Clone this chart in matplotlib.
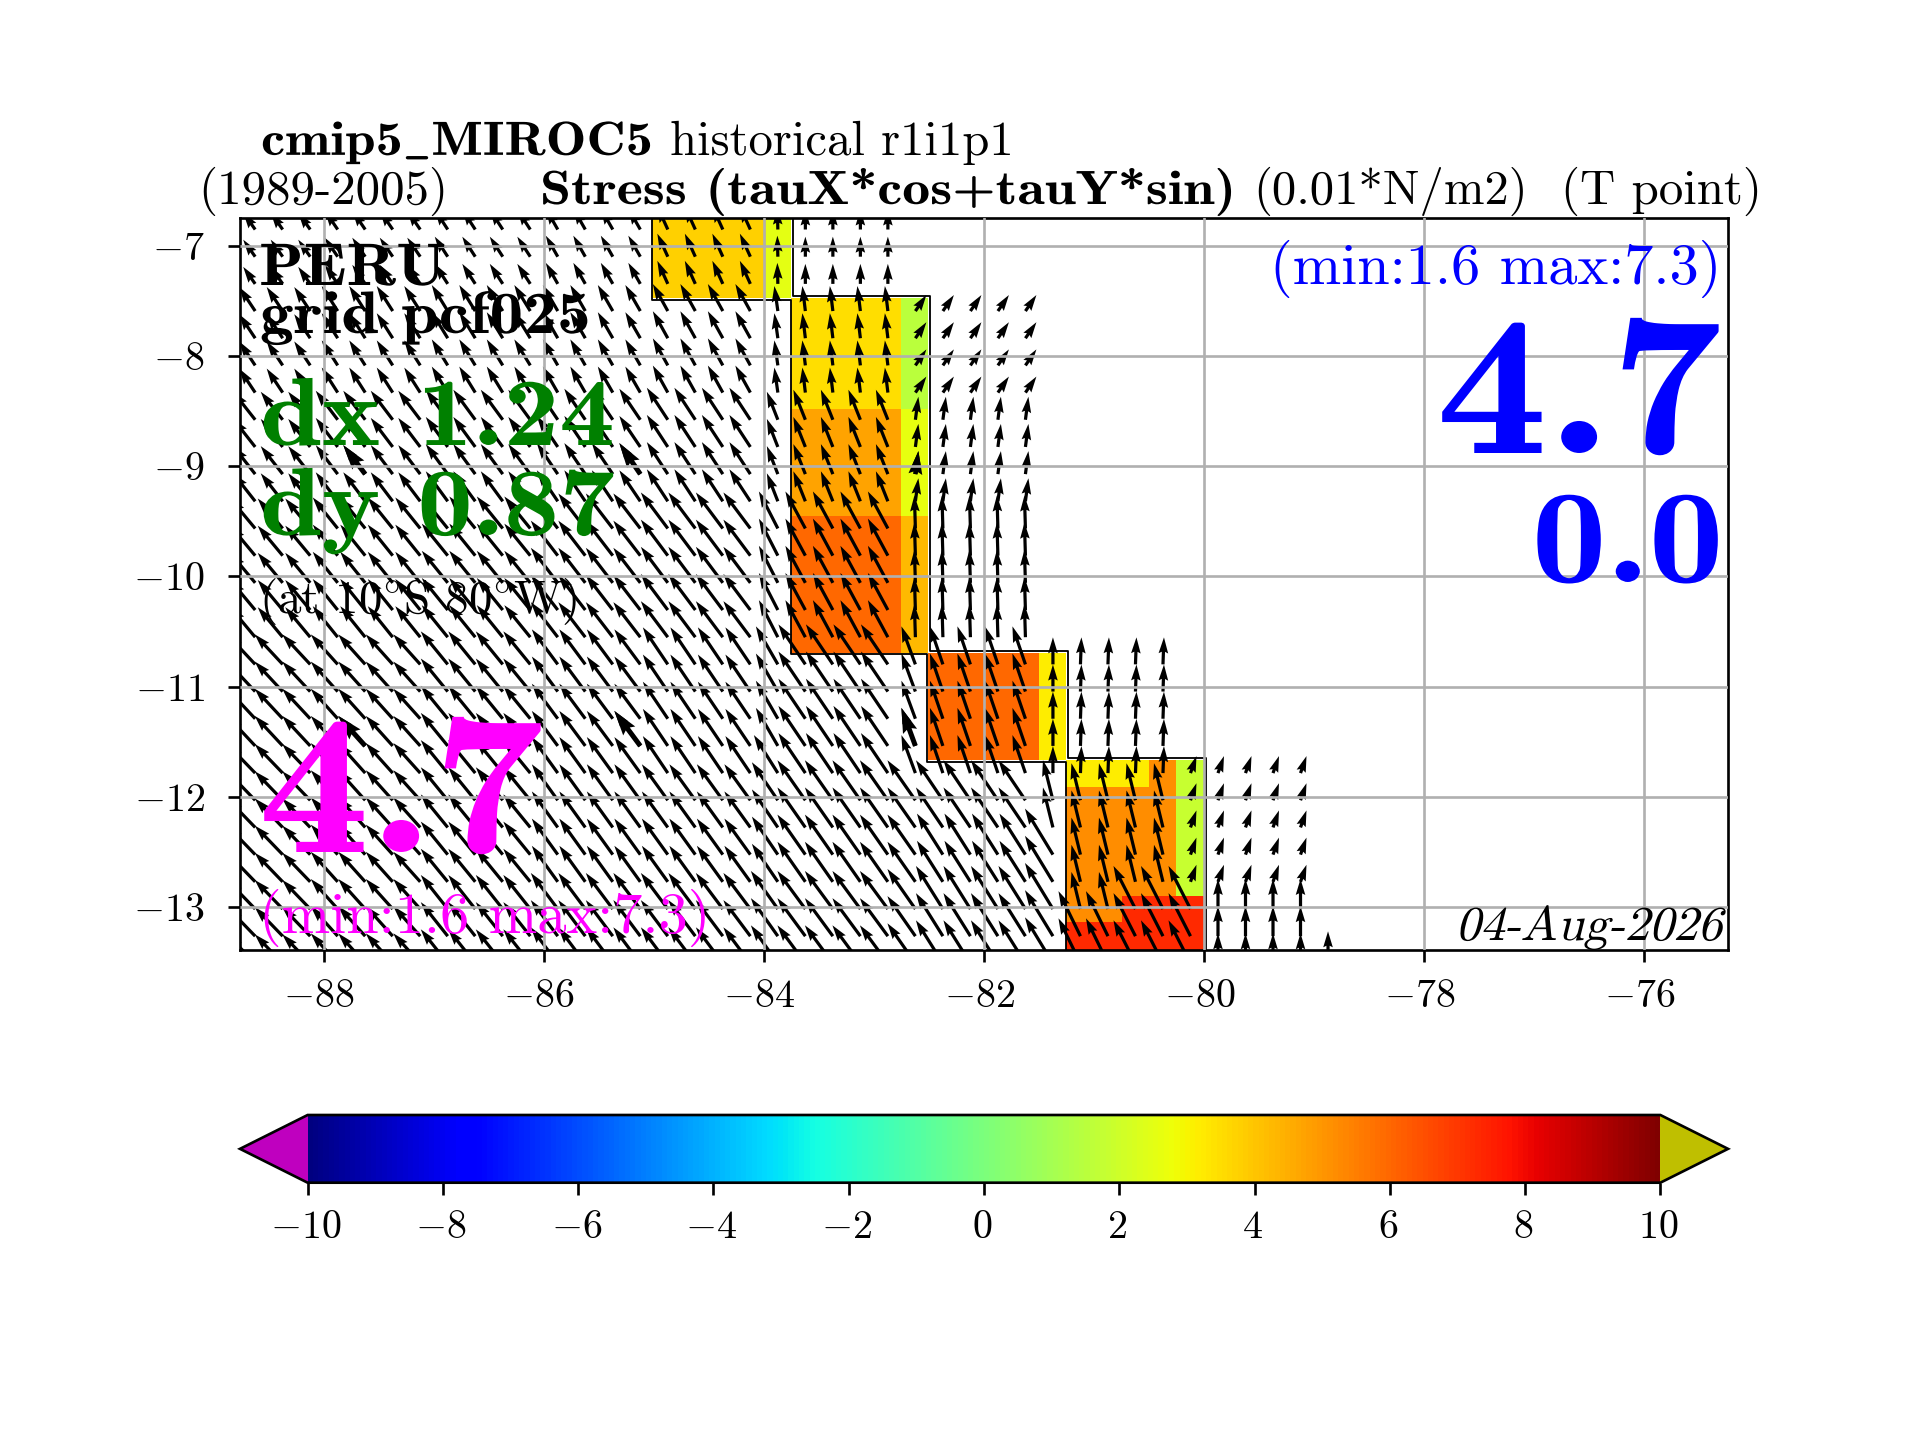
import numpy as np
import matplotlib
matplotlib.use("Agg")
import matplotlib.pyplot as plt
import matplotlib.patheffects as pe
from matplotlib.transforms import Affine2D, ScaledTranslation

plt.rcParams['mathtext.fontset'] = 'cm'
plt.rcParams['font.family'] = ['cmr10', 'DejaVu Sans']
plt.rcParams['axes.unicode_minus'] = False

# ---- colour cells (stress, 0.01 N/m2) ----
cell_lon_edges = [-85.02, -83.98, -83.76, -82.76, -82.51, -81.5, -81.26, -80.75, -80.5, -80.26, -79.99]
cell_lat_edges = [-6.7, -7.47, -8.48, -9.455, -10.69, -11.66, -11.91, -12.9, -13.13, -13.5]
n = np.nan
cell_values = [
    [3.8, 2.5, n, n, n, n, n, n, n, n],
    [n, n, 3.5, 1.5, n, n, n, n, n, n],
    [n, n, 4.7, 2.6, n, n, n, n, n, n],
    [n, n, 6.0, 4.26, n, n, n, n, n, n],
    [n, n, n, n, 6.0, 3.2, n, n, n, n],
    [n, n, n, n, n, n, 3.2, 3.2, 5.2, 1.8],
    [n, n, n, n, n, n, 5.2, 5.2, 5.2, 1.8],
    [n, n, n, n, n, n, 5.2, 7.3, 7.3, 7.3],
    [n, n, n, n, n, n, 7.3, 7.3, 7.3, 7.3],
]

# ---- coast outline ----
coast_west_lon = [-85.02, -85.02, -83.76, -83.76, -82.52, -82.52, -81.26, -81.26]
coast_west_lat = [-6.7, -7.49, -7.49, -10.70, -10.70, -11.68, -11.68, -13.5]
coast_east_lon = [-83.74, -83.74, -82.49, -82.49, -81.24, -81.24, -79.98, -79.98]
coast_east_lat = [-6.7, -7.46, -7.46, -10.68, -10.68, -11.65, -11.65, -13.5]

# ---- wind-stress arrows: a 0.25 degree grid read in blocks ----
arrow_lon = [-88.625 + 0.25 * i for i in range(40)]
arrow_lat = [-6.853 - 0.2465 * k for k in range(28)]
block_cols = [3, 4, 4, 4, 4, 1, 4, 1, 4, 1, 2, 2, 1, 4, 1]
block_rows = [3, 4, 4, 5, 4, 1, 2, 2, 1, 1, 1]
block_u = [
    [-12, -13, -13, -12, -10.5, -0.5, 0, n, n, n, n, n, n, n, n],
    [-16, -16, -16, -15, -15, -3.5, -3, 11, 11, n, n, n, n, n, n],
    [-22, -22, -22, -21, -21, -11, -12, 3, 3, n, n, n, n, n, n],
    [-25, -25, -26, -27, -27, -19, -20, -1, -1, n, n, n, n, n, n],
    [-28, -27, -27, -26, -25, -22, -27, -14, -13, 0, 1, 1, n, n, n],
    [-28, -27, -27, -26, -25, -24, -27, -14, -13, 0, 1, 1, 6, 6, n],
    [-28, -27, -27, -26, -26, -26, -28, -28, -27, -10, -9, -9, 6, 6, n],
    [-28, -27, -27, -26, -26, -26, -28, -28, -26, -28, -9, -9, 6, 6, n],
    [-28, -27, -27, -27, -27, -27, -28, -28, -27, -28, -9, -22, -22, 0, n],
    [-28, -27, -27, -27, -27, -27, -28, -28, -27, -28, -22, -22, -22, 0, n],
    [-28, -27, -27, -27, -27, -27, -28, -28, -27, -28, -22, -22, -22, 0, 0],
]
block_v = [
    [17, 19, 20, 21, 23, 21, 20, n, n, n, n, n, n, n, n],
    [24, 25, 26, 26, 27, 25, 25, 16, 16, n, n, n, n, n, n],
    [28, 29, 30, 31, 32, 28, 30, 23, 23, n, n, n, n, n, n],
    [30, 31, 32, 35, 36, 37, 37, 33, 33, n, n, n, n, n, n],
    [30, 30, 33, 35, 37, 38, 40, 38, 38, 27, 27, 27, n, n, n],
    [29, 30, 33, 36, 37, 38, 40, 38, 38, 27, 27, 27, 17, 17, n],
    [29, 30, 33, 36, 36, 38, 40, 40, 40, 40, 37, 37, 17, 17, n],
    [29, 30, 33, 36, 36, 38, 40, 40, 41, 46, 37, 37, 17, 17, n],
    [29, 30, 34, 36, 36, 38, 38, 40, 43, 46, 37, 43, 43, 30, n],
    [29, 30, 34, 36, 36, 38, 38, 40, 43, 46, 45, 43, 43, 30, n],
    [29, 30, 34, 36, 36, 38, 38, 40, 43, 46, 45, 43, 43, 30, 32],
]
bold_arrow_cols = [4, 14, 24]
bold_arrow_rows = [9, 19]

x_ticks = [-88, -86, -84, -82, -80, -78, -76]
y_ticks = [-7, -8, -9, -10, -11, -12, -13]
cbar_ticks = [-10, -8, -6, -4, -2, 0, 2, 4, 6, 8, 10]

W, H = 1920.0, 1440.0
DPI = 240
fig = plt.figure(figsize=(8, 6), dpi=DPI)
ax = fig.add_axes([0.125, 1 - 949.5 / H, 0.775, (949.5 - 217.5) / H])

cmap = plt.get_cmap('jet').copy()
cmap.set_under((0.75, 0, 0.75))
cmap.set_over((0.75, 0.75, 0))
mesh = ax.pcolormesh(cell_lon_edges, cell_lat_edges, np.ma.masked_invalid(cell_values),
                     cmap=cmap, vmin=-10, vmax=10, zorder=1)
ax.plot(coast_west_lon, coast_west_lat, color='k', lw=0.55, zorder=1.5)
ax.plot(coast_east_lon, coast_east_lat, color='k', lw=0.55, zorder=1.5)

U = np.repeat(np.repeat(np.array(block_u, float), block_rows, axis=0), block_cols, axis=1)
V = np.repeat(np.repeat(np.array(block_v, float), block_rows, axis=0), block_cols, axis=1)
LON, LAT = np.meshgrid(arrow_lon, arrow_lat)
qkw = dict(angles='xy', scale_units='xy', scale=110.2, units='dots', color='k',
           headwidth=3.0, headlength=5.0, headaxislength=4.5, zorder=1.6)
ok = np.isfinite(U)
ax.quiver(LON[ok], LAT[ok], U[ok], V[ok], width=3.2, **qkw)
sel = np.ix_(bold_arrow_rows, bold_arrow_cols)
ok2 = np.isfinite(U[sel])
ax.quiver(LON[sel][ok2], LAT[sel][ok2], U[sel][ok2], V[sel][ok2], width=5.0, **qkw)

ax.set_xlim(-88.763, -75.24)
ax.set_ylim(-13.383, -6.744)
ax.set_xticks(x_ticks)
ax.set_xticklabels([f"${v}$" for v in x_ticks])
ax.set_yticks(y_ticks)
ax.set_yticklabels([f"${v}$" for v in y_ticks])
ax.tick_params(labelsize=12)
ax.tick_params(axis='x', pad=5.3)
ax.tick_params(axis='y', pad=7.1)
ax.grid(True, color='#b0b0b0', lw=0.8)
ax.set_axisbelow(False)

cax = fig.add_axes([0.125, 1 - 1182.7 / H, 0.775, 67.7 / H])
cb = fig.colorbar(mesh, cax=cax, orientation='horizontal', extend='both', ticks=cbar_ticks)
cb.ax.set_xticklabels([f"${v}$" for v in cbar_ticks])
cb.ax.tick_params(labelsize=12, pad=4.8)

for lab in ax.get_xticklabels():
    lab.set_transform(lab.get_transform() + ScaledTranslation(-5 / DPI, 0, fig.dpi_scale_trans))
for lab in cb.ax.get_xticklabels():
    lab.set_transform(lab.get_transform() + ScaledTranslation(-2 / DPI, 0, fig.dpi_scale_trans))


class Reshape(pe.AbstractPathEffect):
    """Widen or slant a text about its anchor, for the bold extended and italic faces."""

    def __init__(self, x0, y0, sx=1.0, slant=0.0):
        super().__init__()
        self.t = (Affine2D().translate(-x0, -y0).skew(np.arctan(slant), 0)
                  .scale(sx, 1.0).translate(x0, y0))

    def draw_path(self, renderer, gc, tpath, affine, rgbFace=None):
        renderer.draw_path(gc, tpath, affine + self.t, rgbFace)


def put(px, py, s, sx=1.0, slant=0.0, **kw):
    t = fig.text(px / W, 1 - py / H, s, va='baseline', **kw)
    if sx != 1.0 or slant != 0.0:
        t.set_path_effects([Reshape(px, H - py, sx, slant)])
    return t


put(261, 155, r"cmip5$\_$MIROC5", family='cmb10', fontsize=14.4, sx=1.132)
put(670, 155, "historical r1i1p1", fontsize=14.6)
put(198, 204, "(1989-2005)", fontsize=14.7)
put(540, 204, "Stress (tauX*cos+tauY*sin)", family='cmb10', fontsize=14.4, sx=1.165)
put(1253, 204, "(0.01*N/m2)", fontsize=14.6)
put(1561, 204, "(T point)", fontsize=14.7)

put(259, 285, "PERU", family='cmb10', fontsize=18, sx=1.09, zorder=5)
put(260, 333, "grid pcf025", family='cmb10', fontsize=18, sx=1.126, zorder=5)
put(260, 445, "dx 1.24", family='cmb10', color='green', fontsize=29, sx=1.15, zorder=5)
put(260, 535, "dy 0.87", family='cmb10', color='green', fontsize=29, sx=1.15, zorder=5)
put(259, 613, r"(at 10$^{\circ}$S 80$^{\circ}$W)", fontsize=14.1, zorder=5)
put(258, 852, "4.7", family='cmb10', color='magenta', fontsize=60, sx=1.12, zorder=5)
put(259, 933, "(min:1.6 max:7.3)", color='magenta', fontsize=17.5, zorder=5)
put(1721, 284, "(min:1.6 max:7.3)", color='blue', fontsize=17.5, ha='right', zorder=5)
put(1722, 453, "4.7", family='cmb10', color='blue', fontsize=60, sx=1.12, ha='right', zorder=5)
put(1724, 582, "0.0", family='cmb10', color='blue', fontsize=40, sx=1.13, ha='right', zorder=5)
put(1722, 940, "04-Aug-2026", fontsize=14.6, slant=0.25, ha='right', zorder=5)

fig.savefig("out.png", dpi=DPI)
